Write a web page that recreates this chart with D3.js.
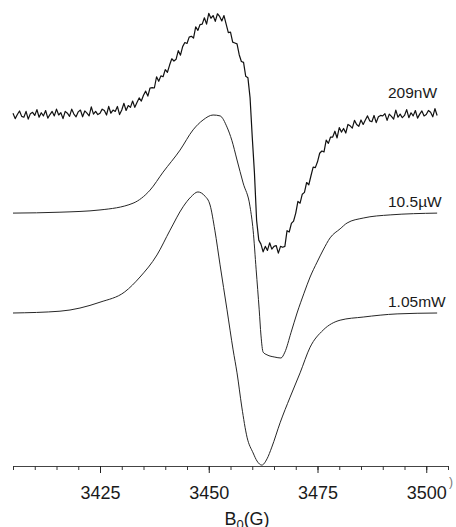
<!DOCTYPE html>
<html><head><meta charset="utf-8">
<script src="https://cdn.jsdelivr.net/npm/d3@7"></script>
<style>body{margin:0;background:#fff}svg{display:block}</style>
</head><body><svg id="c" width="456" height="527"></svg>
<script>
// ---- data ----
const fieldDomain = [3405, 3505];
const majorTicks = [3425, 3450, 3475, 3500];
const minorTicks = [3405,3410,3415,3420,3425,3430,3435,3440,3445,3450,3455,3460,3465,3470,3475,3480,3485,3490,3495,3500,3505];
const seriesLabels = ["209nW", "10.5\u00b5W", "1.05mW"];
const seriesOffsets = [78, 56, 34];

// 209nW: field sweep from 3405 G, step 0.5 G
const noisyStart = 3405, noisyStep = 0.5;
const trace209nW = [
0.4,-0.8,0.1,0.9,-0.3,-0.5,0.8,-0.9,0.3,0.6,
-0.1,1.2,-0.5,0.5,-0.2,1.0,-0.7,0.1,0.8,-0.2,
1.3,0.0,0.5,-0.8,0.8,0.4,-0.3,1.3,0.2,-0.4,
0.7,1.1,-0.4,0.9,0.4,-0.2,1.8,0.2,0.8,0.1,
0.4,1.3,1.0,0.0,1.9,0.4,1.1,0.8,1.9,0.1,
1.1,2.6,1.0,2.1,1.7,3.1,1.7,2.8,3.8,3.1,
4.4,5.3,4.2,6.0,6.1,6.0,8.5,7.5,8.7,8.5,
10.1,9.5,11.1,12.5,12.0,12.4,14.3,13.3,15.2,16.1,
15.9,17.3,17.5,17.1,19.6,18.8,20.1,20.2,21.6,20.2,
22.6,21.5,22.1,20.8,22.5,21.9,20.9,22.1,20.2,18.3,
18.4,16.2,16.0,15.8,13.4,11.9,11.7,8.6,8.3,3.8,
-4.9,-12.8,-23.4,-27.8,-28.7,-30.4,-29.2,-30.1,-28.4,-29.8,
-29.2,-29.0,-30.7,-29.2,-29.4,-29.2,-25.7,-26.0,-24.1,-23.6,
-21.8,-19.2,-19.6,-17.6,-17.2,-15.0,-15.5,-13.5,-11.6,-11.7,
-10.4,-8.5,-8.0,-8.2,-5.6,-6.3,-4.9,-4.9,-3.6,-5.1,
-2.8,-3.8,-3.0,-4.0,-2.1,-2.4,-2.9,-1.2,-2.1,-2.5,
-1.1,-2.1,-1.1,-0.2,-1.3,-1.5,-0.1,-1.7,-0.4,-0.1,
-0.2,0.3,-1.2,0.2,-0.3,-0.9,1.1,-0.5,0.2,-0.6,
-0.1,1.2,-0.6,0.5,-0.2,1.0,-0.7,0.2,0.9,-0.2,
0.1,1.0,0.6,-0.4,1.4,-0.1];

const field10uW = [3405,3415.8,3425,3432.6,3436.5,3439.5,3443.4,3446.4,3448.7,3451.0,3452.6,3454.2,3455.3,3456.5,3457.9,3459.5,3460.2,3460.9,3461.6,3462.0,3462.5,3463.4,3465.2,3466.6,3467.5,3468.9,3470.3,3471.9,3473.3,3474.9,3476.3,3477.9,3480.2,3481.8,3485.5,3491.7,3502.5];
const trace10uW = [0.2,0.4,0.9,2.4,5.3,9.3,14.2,18.7,20.9,22.0,21.8,19.3,16.4,12.0,6.9,1.6,-3.6,-12.4,-21.3,-26.9,-30.7,-31.3,-31.8,-32.0,-30.7,-26.4,-22.0,-17.6,-14.0,-10.7,-8.0,-5.3,-3.3,-2.0,-0.9,-0.2,0.2];

const field1mW = [3405,3415.8,3425,3430.7,3434.2,3438.1,3441.1,3444.1,3445.9,3447.5,3449.1,3450.3,3451.4,3452.6,3454.2,3455.6,3456.5,3457.6,3458.8,3460.2,3461.1,3462.2,3463.4,3464.5,3466.4,3468.7,3471.0,3473.3,3476.3,3480.2,3485.5,3493.3,3502.5];
const trace1mW = [0,0.4,2.4,4.7,8.0,12.9,18.4,23.6,25.8,26.9,26.0,24.0,18.4,10.7,0.7,-8.2,-13.3,-20.9,-27.6,-31.1,-32.9,-33.8,-32.4,-29.8,-24.4,-18.7,-13.3,-7.6,-3.8,-1.6,-0.9,-0.2,0];

// ---- drawing ----
const svg = d3.select("#c");
const font = "'Liberation Sans', Arial, Helvetica, sans-serif";
const x = d3.scaleLinear().domain(fieldDomain).range([13, 448]);
const y = d3.scaleLinear().domain([0, 100]).range([466, 16]);

const series = [
  trace209nW.map((v, i) => [noisyStart + i * noisyStep, v]),
  field10uW.map((f, i) => [f, trace10uW[i]]),
  field1mW.map((f, i) => [f, trace1mW[i]])
];

series.forEach((pts, k) => {
  const line = d3.line()
    .x(d => x(d[0]))
    .y(d => y(d[1] + seriesOffsets[k]))
    .curve(k === 0 ? d3.curveLinear : d3.curveMonotoneX);
  svg.append("path").datum(pts)
    .attr("d", line)
    .attr("fill", "none")
    .attr("stroke", k === 0 ? "#111" : "#262626")
    .attr("stroke-width", k === 0 ? 1.2 : 1)
    .attr("stroke-linejoin", "round");
});

const labelLift = [17, 7, 6];
seriesLabels.forEach((t, k) => {
  svg.append("text")
    .attr("x", 388)
    .attr("y", y(seriesOffsets[k]) - labelLift[k])
    .attr("font-family", font).attr("font-size", 15.5)
    .attr("fill", "#1a1a1a")
    .text(t);
});

// axis
const gMinor = svg.append("g").attr("transform", "translate(0,466)")
  .call(d3.axisBottom(x).tickValues(minorTicks).tickSize(4).tickSizeOuter(0).tickFormat(""));
gMinor.select(".domain").attr("stroke", "#444");
gMinor.selectAll(".tick line").attr("stroke", "#333");

const gMajor = svg.append("g").attr("transform", "translate(0,466)")
  .call(d3.axisBottom(x).tickValues(majorTicks).tickSize(7).tickPadding(13).tickFormat(d3.format("d")));
gMajor.select(".domain").remove();
gMajor.selectAll(".tick line").attr("stroke", "#222");
gMajor.selectAll(".tick text").attr("font-family", font).attr("font-size", 18).attr("fill", "#1a1a1a");

// axis title
const title = svg.append("text")
  .attr("x", 247).attr("y", 525)
  .attr("text-anchor", "middle")
  .attr("font-family", font).attr("font-size", 18).attr("fill", "#1a1a1a");
title.append("tspan").text("B");
title.append("tspan").attr("font-size", 13).attr("dy", 4).text("0");
title.append("tspan").attr("dy", -4).text("(G)");

// clipped fragment at right edge
svg.append("text").attr("x", 449).attr("y", 486)
  .attr("font-family", font).attr("font-size", 12).attr("fill", "#777").text(")");
</script></body></html>
